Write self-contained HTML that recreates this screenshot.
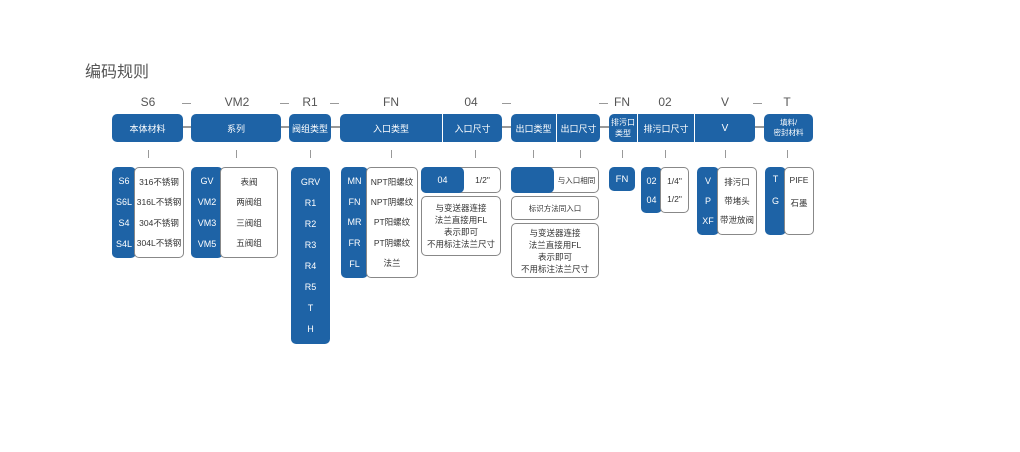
<!DOCTYPE html>
<html><head><meta charset="utf-8"><style>
*{margin:0;padding:0;box-sizing:border-box}
body{width:1020px;height:452px;background:#fff;position:relative;overflow:hidden;font-family:"Liberation Sans","Noto Sans CJK SC",sans-serif}
.a{position:absolute}
.b{position:absolute;background:#1e63a6;color:#fff;border-radius:5px;font-size:9px}
.w{position:absolute;background:#fff;border:1px solid #888;border-radius:5px;font-size:8.5px;color:#333}
.t{position:absolute;font-size:12px;color:#555;transform:translateX(-50%);top:95px}
.d{position:absolute;top:103px;width:9px;height:1px;background:#999}
.k{position:absolute;top:150px;width:1px;height:8px;background:#999}
.h{position:absolute;top:126px;height:2px;background:#999}
.c{display:flex;align-items:center;justify-content:center;text-align:center}
.col{display:flex;flex-direction:column;justify-content:space-around;align-items:center;padding:4px 0}
</style></head><body>
<div class="a" style="left:85px;top:58px;font-size:16px;color:#555">编码规则</div>

<div class="t" style="left:148px">S6</div>
<div class="t" style="left:237px">VM2</div>
<div class="t" style="left:310px">R1</div>
<div class="t" style="left:391px">FN</div>
<div class="t" style="left:471px">04</div>
<div class="t" style="left:622px">FN</div>
<div class="t" style="left:665px">02</div>
<div class="t" style="left:725px">V</div>
<div class="t" style="left:787px">T</div>
<div class="d" style="left:182px"></div><div class="d" style="left:280px"></div>
<div class="d" style="left:330px"></div><div class="d" style="left:502px"></div>
<div class="d" style="left:599px"></div><div class="d" style="left:753px"></div>

<div class="h" style="left:180px;width:14px"></div>
<div class="h" style="left:278px;width:14px"></div>
<div class="h" style="left:328px;width:14px"></div>
<div class="h" style="left:500px;width:14px"></div>
<div class="h" style="left:598px;width:14px"></div>
<div class="h" style="left:753px;width:14px"></div>

<div class="b c" style="left:112px;top:114px;width:71px;height:28px">本体材料</div>
<div class="b c" style="left:191px;top:114px;width:90px;height:28px">系列</div>
<div class="b c" style="left:289px;top:114px;width:42px;height:28px">阀组类型</div>
<div class="b" style="left:340px;top:114px;width:162px;height:28px">
 <div class="a c" style="left:0;top:0;width:102px;height:28px">入口类型</div>
 <div class="a" style="left:102px;top:0;width:1px;height:28px;background:#fff"></div>
 <div class="a c" style="left:103px;top:0;width:59px;height:28px">入口尺寸</div></div>
<div class="b" style="left:511px;top:114px;width:89px;height:28px">
 <div class="a c" style="left:0;top:0;width:45px;height:28px">出口类型</div>
 <div class="a" style="left:45px;top:0;width:1px;height:28px;background:#fff"></div>
 <div class="a c" style="left:46px;top:0;width:43px;height:28px">出口尺寸</div></div>
<div class="b" style="left:609px;top:114px;width:146px;height:28px">
 <div class="a c" style="left:0;top:0;width:28px;height:28px;font-size:8px;line-height:11px">排污口<br>类型</div>
 <div class="a" style="left:28px;top:0;width:1px;height:28px;background:#fff"></div>
 <div class="a c" style="left:29px;top:0;width:56px;height:28px">排污口尺寸</div>
 <div class="a" style="left:85px;top:0;width:1px;height:28px;background:#fff"></div>
 <div class="a c" style="left:86px;top:0;width:60px;height:28px;font-size:10px">V</div></div>
<div class="b c" style="left:764px;top:114px;width:49px;height:28px;font-size:7.5px;line-height:10px">填料/<br>密封材料</div>

<div class="k" style="left:148px"></div><div class="k" style="left:236px"></div>
<div class="k" style="left:310px"></div><div class="k" style="left:391px"></div>
<div class="k" style="left:475px"></div><div class="k" style="left:533px"></div>
<div class="k" style="left:580px"></div><div class="k" style="left:622px"></div>
<div class="k" style="left:665px"></div><div class="k" style="left:725px"></div>
<div class="k" style="left:787px"></div>

<div class="b col" style="left:112px;top:167px;width:24px;height:91px"><span>S6</span><span>S6L</span><span>S4</span><span>S4L</span></div>
<div class="w col" style="left:134px;top:167px;width:50px;height:91px"><span>316不锈钢</span><span>316L不锈钢</span><span>304不锈钢</span><span>304L不锈钢</span></div>

<div class="b col" style="left:191px;top:167px;width:32px;height:91px"><span>GV</span><span>VM2</span><span>VM3</span><span>VM5</span></div>
<div class="w col" style="left:220px;top:167px;width:58px;height:91px"><span>表阀</span><span>两阀组</span><span>三阀组</span><span>五阀组</span></div>

<div class="b col" style="left:291px;top:167px;width:39px;height:177px"><span>GRV</span><span>R1</span><span>R2</span><span>R3</span><span>R4</span><span>R5</span><span>T</span><span>H</span></div>

<div class="b col" style="left:341px;top:167px;width:27px;height:111px"><span>MN</span><span>FN</span><span>MR</span><span>FR</span><span>FL</span></div>
<div class="w col" style="left:366px;top:167px;width:52px;height:111px"><span>NPT阳螺纹</span><span>NPT阴螺纹</span><span>PT阳螺纹</span><span>PT阴螺纹</span><span>法兰</span></div>

<div class="w" style="left:421px;top:167px;width:80px;height:26px"></div>
<div class="b c" style="left:421px;top:167px;width:43px;height:26px">04</div>
<div class="a c" style="left:464px;top:167px;width:37px;height:26px;font-size:8.5px;color:#333">1/2"</div>
<div class="w c" style="left:421px;top:196px;width:80px;height:60px;line-height:12px">与变送器连接<br>法兰直接用FL<br>表示即可<br>不用标注法兰尺寸</div>

<div class="w" style="left:511px;top:167px;width:88px;height:26px"></div>
<div class="b" style="left:511px;top:167px;width:43px;height:26px"></div>
<div class="a c" style="left:554px;top:167px;width:45px;height:26px;font-size:7.5px;color:#333">与入口相同</div>
<div class="w c" style="left:511px;top:196px;width:88px;height:24px;font-size:7.5px">标识方法同入口</div>
<div class="w c" style="left:511px;top:223px;width:88px;height:55px;line-height:12px">与变送器连接<br>法兰直接用FL<br>表示即可<br>不用标注法兰尺寸</div>

<div class="b c" style="left:609px;top:167px;width:26px;height:24px;font-size:9.5px">FN</div>

<div class="b col" style="left:641px;top:167px;width:21px;height:46px"><span>02</span><span>04</span></div>
<div class="w col" style="left:660px;top:167px;width:29px;height:46px"><span>1/4"</span><span>1/2"</span></div>

<div class="b col" style="left:697px;top:167px;width:22px;height:68px"><span>V</span><span>P</span><span>XF</span></div>
<div class="w col" style="left:717px;top:167px;width:40px;height:68px"><span>排污口</span><span>带堵头</span><span>带泄放阀</span></div>

<div class="b col" style="left:765px;top:167px;width:21px;height:68px;justify-content:flex-start;gap:12px;padding-top:7px"><span>T</span><span>G</span></div>
<div class="w col" style="left:784px;top:167px;width:30px;height:68px;justify-content:flex-start;gap:12px;padding-top:7px"><span>PIFE</span><span>石墨</span></div>
</body></html>
